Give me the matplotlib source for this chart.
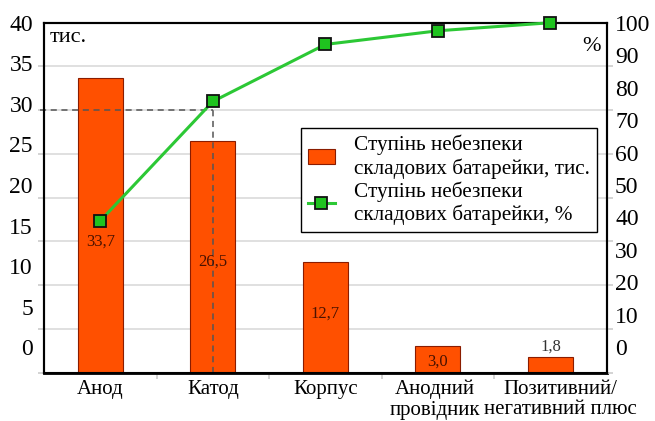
import matplotlib.pyplot as plt
import matplotlib.transforms as mtransforms
import numpy as np

plt.rcParams['font.family'] = ['Liberation Serif', 'DejaVu Serif']

categories = ['Анод', 'Катод', 'Корпус', 'Анодний\nпровідник', 'Позитивний/\nнегативний плюс']
values = [33.7, 26.5, 12.7, 3.0, 1.8]
value_labels = ['33,7', '26,5', '12,7', '3,0', '1,8']
cum_percent = [43.4, 77.5, 93.8, 97.7, 100.0]
left_ticks = [0, 5, 10, 15, 20, 25, 30, 35, 40]
right_ticks = [0, 10, 20, 30, 40, 50, 60, 70, 80, 90, 100]
bar_label = 'Ступінь небезпеки\nскладових батарейки, тис.'
line_label = 'Ступінь небезпеки\nскладових батарейки, %'

# where the value labels sit (data units, left axis)
label_y = [15.0, 12.7, 6.8, 1.25, 3.0]
# small sideways nudges of the category labels, px
label_dx = [0, 0, 0, -3, 10]

fig = plt.figure(figsize=(6.55, 4.21), dpi=100)
ax = fig.add_axes([0.0672, 0.1147, 0.8591, 0.8313])
ax2 = ax.twinx()

x = np.arange(len(categories))
bars = ax.bar(x, values, width=0.4, color='#ff5000', edgecolor='#8a1c00', linewidth=0.8, zorder=3)
ax.set_xlim(-0.5, 4.5)
ax.set_ylim(0, 40)
ax2.set_ylim(0, 100)

# grid
for g in left_ticks[1:-1]:
    ax.axhline(g, color='#dddddd', linewidth=1.3, zorder=1)

# the tick labels in the original are squeezed towards the top, keep that look
lo_l = 2.9
ax.set_yticks([lo_l + v * (40 - lo_l) / 40 for v in left_ticks])
ax.set_yticklabels([str(v) for v in left_ticks], fontsize=17)
ax.tick_params(axis='y', which='major', length=0, pad=8)
ax.set_yticks(left_ticks, minor=True)
ax.tick_params(axis='y', which='minor', length=4, color='#cccccc', width=1.2, left=True, right=False)

lo_r = 7.25
ax2.set_yticks([lo_r + v * (100 - lo_r) / 100 for v in right_ticks])
ax2.set_yticklabels([str(v) for v in right_ticks], fontsize=17)
ax2.tick_params(axis='y', which='major', length=0, pad=6)
ax2.set_yticks([g * 2.5 for g in left_ticks], minor=True)
ax2.tick_params(axis='y', which='minor', length=4, color='#cccccc', width=1.2)

ax.set_xticks(x)
ax.set_xticklabels(categories, fontsize=15, linespacing=1.12)
ax.tick_params(axis='x', which='major', length=0, pad=5)
ax.set_xticks(x[:-1] + 0.5, minor=True)
ax.tick_params(axis='x', which='minor', length=4, color='#cccccc', width=1.2)
for lab, dx in zip(ax.get_xticklabels(), label_dx):
    lab.set_transform(lab.get_transform() + mtransforms.ScaledTranslation(dx / 100, 0, fig.dpi_scale_trans))

for a in (ax, ax2):
    for s in a.spines.values():
        s.set_color('black')
        s.set_linewidth(1.5)
ax.spines['bottom'].set_linewidth(2)

# reference dashes
ax.plot([-0.54, 1], [30, 30], linestyle=(0, (4, 3)), color='#555555', linewidth=1.1, zorder=4, clip_on=False)
ax.plot([1, 1], [0, cum_percent[1] * 0.4], linestyle=(0, (4, 3)), color='#555555', linewidth=1.1, zorder=4)

line, = ax2.plot(x, cum_percent, color='#2cc835', linewidth=2.2, marker='s', markersize=8,
                 markerfacecolor='#1fc31f', markeredgecolor='#111111', markeredgewidth=1.3,
                 zorder=5, clip_on=False)

for i, (ly, t) in enumerate(zip(label_y, value_labels)):
    col = '#333333' if i == 4 else '#4a1200'
    ax.text(x[i], ly, t, ha='center', va='center', fontsize=12, color=col, zorder=6)

ax.text(0.01, 0.985, 'тис.', transform=ax.transAxes, ha='left', va='top', fontsize=16)
ax.text(0.99, 0.96, '%', transform=ax.transAxes, ha='right', va='top', fontsize=16)

leg = ax2.legend([bars, line], [bar_label, line_label], loc='upper left',
                 bbox_to_anchor=(0.457, 0.698), fontsize=15.3, frameon=True, fancybox=False,
                 edgecolor='black', framealpha=1, borderpad=0.3, labelspacing=0.1,
                 handlelength=1.3, handletextpad=0.9, borderaxespad=0)
leg.get_frame().set_linewidth(1.0)
ax2.set_zorder(ax.get_zorder() + 1)
ax2.patch.set_visible(False)

fig.savefig('out.png', dpi=100)
